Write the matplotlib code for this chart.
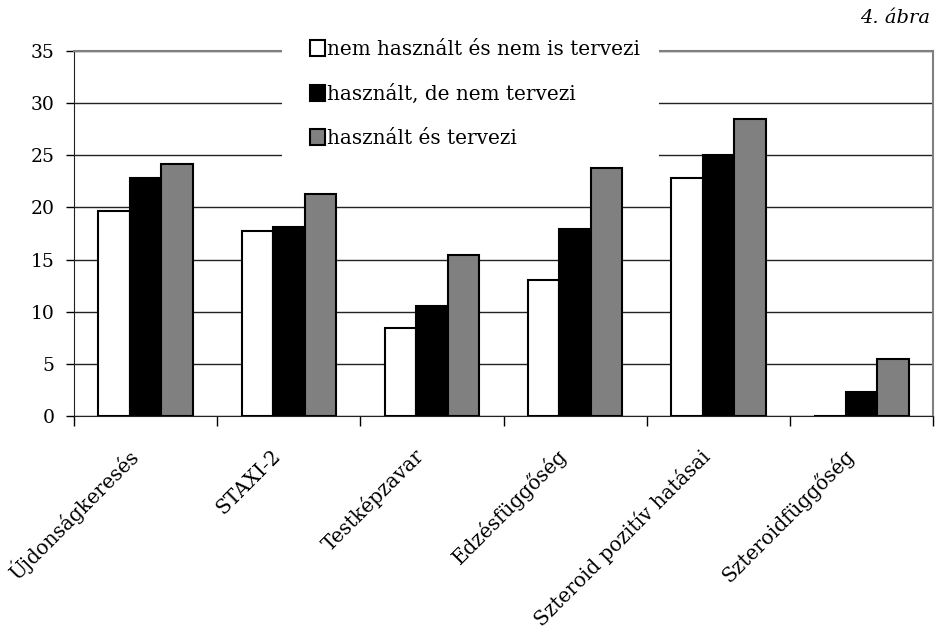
import numpy as np
import matplotlib
matplotlib.use("Agg")
import matplotlib.pyplot as plt
from matplotlib.patches import Rectangle

plt.rcParams['font.family'] = ['DejaVu Serif']

categories = ["Újdonságkeresés", "STAXI-2", "Testképzavar", "Edzésfüggőség",
              "Szteroid pozitív hatásai", "Szteroidfüggőség"]
series_names = ["nem használt és nem is tervezi",
                "használt, de nem tervezi",
                "használt és tervezi"]
nem_hasznalt = [19.7, 17.7, 8.4, 13.0, 22.8, 0.0]
hasznalt_nem_tervezi = [22.8, 18.1, 10.5, 17.9, 25.0, 2.3]
hasznalt_tervezi = [24.2, 21.3, 15.4, 23.8, 28.5, 5.5]
yticks = [0, 5, 10, 15, 20, 25, 30, 35]

fig = plt.figure(figsize=(9.35, 6.32), dpi=100)
ax = fig.add_axes([0.0791, 0.3418, 0.919, 0.5775])

x = np.arange(len(categories))
w = 0.22
colors = ["white", "black", "#808080"]
for i, (vals, c, name) in enumerate(zip([nem_hasznalt, hasznalt_nem_tervezi, hasznalt_tervezi],
                                          colors, series_names)):
    ax.bar(x + (i - 1) * w, vals, width=w, color=c, edgecolor="black",
           linewidth=1.5, label=name, zorder=3)

ax.set_xlim(-0.5, len(categories) - 0.5)
ax.set_ylim(0, 35)
ax.set_yticks(yticks)
ax.yaxis.grid(True, color="#222222", linewidth=1.0, zorder=0)
ax.set_axisbelow(True)

# group boundaries as ticks, category names as rotated text
ax.set_xticks(np.arange(-0.5, len(categories), 1.0))
ax.set_xticklabels([])
ax.tick_params(axis="x", length=7, width=1, direction="out")
ax.tick_params(axis="y", length=6, width=1, labelsize=13.5, pad=8)
for xi, name in zip(x, categories):
    ax.annotate(name, xy=(xi, 0), xycoords=("data", "axes fraction"),
                xytext=(-8, -26.5), textcoords="offset points",
                rotation=45, ha="right", va="center",
                rotation_mode="anchor", fontsize=14.4)

for s in ["top", "right"]:
    ax.spines[s].set_color("#808080")
    ax.spines[s].set_linewidth(1.5)
ax.spines["left"].set_color("#222222")
ax.spines["bottom"].set_color("#222222")

# white box behind the legend hides the grid and top border
ax.add_patch(Rectangle((0.242, 0.705), 0.439, 0.32, transform=ax.transAxes,
                       facecolor="white", edgecolor="none", zorder=2.6,
                       clip_on=False))

leg = ax.legend(loc="upper left", bbox_to_anchor=(0.2747, 1.031), ncol=1,
                frameon=False, fontsize=14.4, labelspacing=1.25,
                handlelength=0.75, handleheight=0.85, handletextpad=0.1,
                borderpad=0, borderaxespad=0)
leg.set_zorder(5)

fig.text(0.995, 0.972, "4. ábra", ha="right", va="center",
         fontsize=14, style="italic")

fig.savefig("out.png", dpi=100)
